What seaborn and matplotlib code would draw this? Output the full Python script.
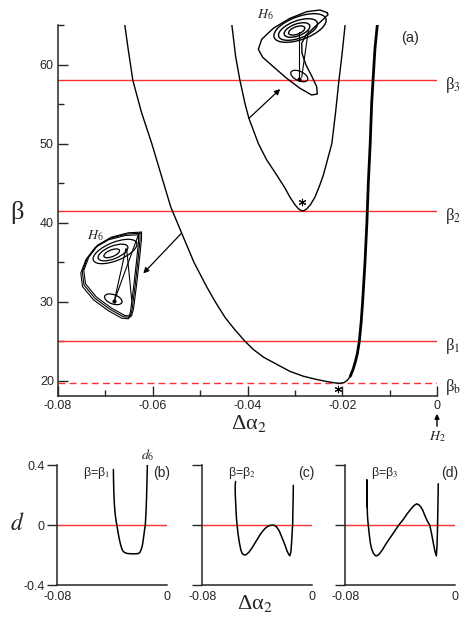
import numpy as np
import pandas as pd
import seaborn as sns
import matplotlib.pyplot as plt
from matplotlib.patches import Ellipse, FancyArrowPatch

# ---- panel (a): homoclinic curves in the (delta alpha2, beta) plane ----
outer_da = [-0.0659, -0.0652, -0.0642, -0.0624, -0.0602, -0.0582, -0.0562, -0.0539,
            -0.0513, -0.0487, -0.0468, -0.0447, -0.0427, -0.0405, -0.0388, -0.0366,
            -0.0335, -0.0310, -0.0282, -0.0255, -0.0230, -0.0215, -0.0205, -0.0196,
            -0.0189, -0.0183]
outer_beta = [65, 62, 58, 54, 50, 46, 42, 38.7, 35, 32, 30, 28, 26.5, 25, 24, 23,
              22, 21.2, 20.6, 20.2, 19.9, 19.75, 19.7, 19.8, 20.1, 20.6]
right_da = [-0.0183, -0.0177, -0.0172, -0.0168, -0.0164, -0.0160, -0.0157, -0.0152,
            -0.0148, -0.0145, -0.0141, -0.0138, -0.0135, -0.0131, -0.0126]
right_beta = [20.6, 21.5, 22.5, 23.5, 25, 27.5, 30, 35, 40, 45, 50, 55, 58, 62, 65]
inner_da = [-0.0433, -0.0425, -0.0416, -0.0405, -0.0397, -0.0377, -0.0360, -0.0338,
            -0.0322, -0.0310, -0.0300, -0.0293, -0.0288, -0.0284, -0.0280, -0.0275,
            -0.0267, -0.0258, -0.0249, -0.0240, -0.0231, -0.0222, -0.0214, -0.0207,
            -0.0201, -0.0194]
inner_beta = [65, 61, 58, 55, 53.2, 50, 48, 46, 44.5, 43.2, 42.3, 41.8, 41.58, 41.5,
              41.55, 41.75, 42.3, 43.2, 44.5, 46, 48, 50, 54, 58, 61, 65]

beta_levels = [58, 41.5, 25, 19.8]
beta_names = ['β$_3$', 'β$_2$', 'β$_1$', 'β$_\\mathrm{b}$']
star_da = [-0.0286, -0.0208]
star_beta = [42.6, 18.95]

# ---- panels (b)-(d): d versus delta alpha2 ----
b_da = [-0.0392, -0.0391, -0.0389, -0.0385, -0.0380, -0.0373, -0.0367, -0.0360,
        -0.0350, -0.0340, -0.0330, -0.0320, -0.0305, -0.0290, -0.0260, -0.0230,
        -0.0210, -0.0200, -0.0190, -0.0180, -0.0172, -0.0165, -0.0160, -0.0155,
        -0.0151, -0.0148, -0.0145]
b_d = [0.37, 0.30, 0.22, 0.14, 0.08, 0.03, 0.0, -0.04, -0.09, -0.13, -0.16, -0.177,
       -0.186, -0.19, -0.192, -0.192, -0.19, -0.183, -0.165, -0.13, -0.08, -0.03,
       0.0, 0.08, 0.18, 0.28, 0.40]
c_da = [-0.0558, -0.0561, -0.0560, -0.0556, -0.0552, -0.0547, -0.0540, -0.0530,
        -0.0520, -0.0510, -0.0495, -0.0480, -0.0460, -0.0440, -0.0420, -0.0400,
        -0.0380, -0.0360, -0.0340, -0.0320, -0.0300, -0.0286, -0.0272, -0.0258,
        -0.0240, -0.0220, -0.0200, -0.0185, -0.0172, -0.0163, -0.0156, -0.0150,
        -0.0146, -0.0143, -0.0141, -0.0139, -0.0138]
c_d = [0.29, 0.26, 0.20, 0.12, 0.05, 0.0, -0.06, -0.12, -0.165, -0.19, -0.20, -0.197,
       -0.18, -0.155, -0.125, -0.095, -0.065, -0.04, -0.02, -0.007, -0.001, 0.0,
       -0.004, -0.015, -0.04, -0.085, -0.13, -0.17, -0.195, -0.205, -0.18, -0.11,
       -0.04, 0.0, 0.10, 0.19, 0.264]
d_da = [-0.0641, -0.0643, -0.0643, -0.0643, -0.0641, -0.0638, -0.0633, -0.0626,
        -0.0618, -0.0608, -0.0595, -0.0579, -0.0565, -0.0550, -0.0530, -0.0500,
        -0.0470, -0.0440, -0.0411, -0.0380, -0.0350, -0.0320, -0.0300, -0.0281,
        -0.0265, -0.0250, -0.0235, -0.0220, -0.0203, -0.0186, -0.0172, -0.0160,
        -0.0148, -0.0138, -0.0133, -0.0130, -0.0128, -0.0126, -0.0124]
d_d = [0.12, 0.21, 0.30, 0.22, 0.12, 0.05, 0.0, -0.06, -0.12, -0.16, -0.19, -0.206,
       -0.203, -0.19, -0.165, -0.12, -0.08, -0.04, 0.0, 0.035, 0.075, 0.11, 0.13,
       0.141, 0.135, 0.12, 0.095, 0.06, 0.025, 0.0, -0.06, -0.12, -0.175, -0.206,
       -0.14, -0.05, 0.05, 0.15, 0.275]
panel_tags = ['(b)', '(c)', '(d)']
panel_betas = ['β=β$_1$', 'β=β$_2$', 'β=β$_3$']

# ---- H6 attractor sketches (pixel coordinates of the figure) ----
top_rings = [(296.7, 30.5, 17, 7.5), (297, 30, 27, 12), (298, 29.5, 41, 17.5), (300, 28, 55, 23)]
top_loop_x = [327.3, 320, 306.7, 290, 273.3, 261.7, 258.3, 262.7, 273.3, 286.7, 300,
              311.7, 317.3, 316.7, 311.7, 306, 302, 301.7, 306, 315, 323.3, 328, 327.3]
top_loop_y = [12.7, 10, 11.7, 18.3, 28.3, 39.3, 49.3, 57.3, 66.7, 78.3, 88.3, 95, 94,
              86.7, 76, 65, 53.3, 43.3, 35, 26.7, 19.3, 14.7, 12.7]
top_small = (299.3, 76, 18.3, 9.3)
top_dot = (299.3, 78.7)
top_links = [((299.3, 32.3), (299.3, 78.7)), ((308.3, 30.7), (301.7, 77.3))]

low_rings = [(111.7, 253.3, 16.7, 6.7), (113, 252.5, 31.7, 12.7), (115, 251.5, 46.7, 18.3)]
low_loop_x = [140, 126.7, 110, 96.7, 87.3, 82.3, 84, 95, 110, 123.3, 130, 132, 135, 138, 140, 140]
low_loop_y = [233.3, 234, 238.3, 246, 258.3, 271.7, 285, 298.3, 309.3, 316.7, 317.3,
              310, 286.7, 260, 240, 233.3]
low_small = (113.3, 299.3, 18.3, 9.3)
low_dot = (114.3, 301)
low_links = [((126, 248.3), (114.3, 301)), ((126.7, 249.3), (131.7, 300)),
             ((138.3, 235), (114.3, 301))]

sns.set_style('ticks')
plt.rcParams['font.family'] = ['Liberation Sans', 'DejaVu Sans']
plt.rcParams['mathtext.fontset'] = 'stix'
plt.rcParams['axes.unicode_minus'] = False
red = '#ff3030'
serif = ['Liberation Serif', 'DejaVu Serif']

fig = plt.figure(figsize=(4.61, 6.25), dpi=100)

# ---------------- panel (a) ----------------
ax = fig.add_axes([58 / 461, 1 - 396 / 625, 379 / 461, 371 / 625])
for lvl, name, ls in zip(beta_levels, beta_names, ['-', '-', '-', (0, (5, 3))]):
    ax.axhline(lvl, color=red, lw=1.0, ls=ls, zorder=1)
    ax.text(1.02, lvl - 0.6, name, transform=ax.get_yaxis_transform(), fontsize=12,
            family=serif, va='center', ha='left', clip_on=False)
sns.lineplot(x=outer_da, y=outer_beta, sort=False, estimator=None, color='k', lw=1.0, ax=ax)
sns.lineplot(x=right_da, y=right_beta, sort=False, estimator=None, color='k', lw=2.0, ax=ax)
sns.lineplot(x=inner_da, y=inner_beta, sort=False, estimator=None, color='k', lw=1.0, ax=ax)
ax.scatter(star_da, star_beta, marker=(6, 2, 0), s=22, color='k', lw=0.8, zorder=3)

ax.annotate('', xy=(-0.0331, 56.9), xytext=(-0.0397, 53.2),
            arrowprops=dict(arrowstyle='-|>', color='k', lw=0.9, mutation_scale=8,
                            shrinkA=0, shrinkB=0))
ax.annotate('', xy=(-0.0620, 33.6), xytext=(-0.0539, 38.7),
            arrowprops=dict(arrowstyle='-|>', color='k', lw=0.9, mutation_scale=8,
                            shrinkA=0, shrinkB=0))

ax.set_xlim(-0.08, 0)
ax.set_ylim(18.1, 65)
ax.set_xticks([-0.08, -0.06, -0.04, -0.02, 0], ['-0.08', '-0.06', '-0.04', '-0.02', '0'])
ax.set_xticks([-0.07, -0.05, -0.03, -0.01], minor=True)
ax.set_yticks([20, 30, 40, 50, 60], ['20', '30', '40', '50', '60'])
ax.set_yticks([25, 35, 45, 55, 65], minor=True)
ax.tick_params(which='major', direction='in', length=7, width=1, labelsize=9, pad=3)
ax.tick_params(which='minor', direction='in', length=4.5, width=1)
for s in ['top', 'right']:
    ax.spines[s].set_visible(False)
for s in ['left', 'bottom']:
    ax.spines[s].set_linewidth(1.1)
ax.text(0.93, 0.965, '(a)', transform=ax.transAxes, fontsize=10.5, ha='center', va='center')
ax.set_xlabel('')
ax.set_ylabel('')

fig.text(17 / 461, 1 - 213 / 625, 'β', family=serif, fontsize=19, ha='center', va='center')
fig.text(249 / 461, 1 - 423 / 625, 'Δα$_2$', family=serif, fontsize=16, ha='center', va='center')
fig.text(255 / 461, 1 - 603 / 625, 'Δα$_2$', family=serif, fontsize=16, ha='center', va='center')
fig.text(17 / 461, 1 - 524 / 625, '$d$', fontsize=17, ha='center', va='center')
fig.text(148 / 461, 1 - 455 / 625, '$d_6$', fontsize=10, ha='center', va='center')
fig.text(437 / 461, 1 - 437 / 625, '$H_2$', fontsize=10, ha='center', va='center')
fig.patches.append(FancyArrowPatch(
    (437 / 461, 1 - 429 / 625), (437 / 461, 1 - 411 / 625), transform=fig.transFigure,
    arrowstyle='-|>', mutation_scale=7, color='k', lw=1))

# ---------------- panels (b)-(d) ----------------
lefts = [57.3, 202.3, 345.3]
curves = [(b_da, b_d), (c_da, c_d), (d_da, d_d)]
for i, (left, (xs, ys)) in enumerate(zip(lefts, curves)):
    bx = fig.add_axes([left / 461, 1 - 585 / 625, 110 / 461, 120 / 625])
    bx.axhline(0, color=red, lw=1.0, zorder=1)
    sns.lineplot(x=xs, y=ys, sort=False, estimator=None, color='k', lw=1.1, ax=bx)
    bx.set_xlim(-0.08, 0)
    bx.set_ylim(-0.4, 0.4)
    bx.set_xticks([-0.08, 0], ['-0.08', '0'])
    bx.set_yticks([-0.4, 0, 0.4], ['-0.4', '0', '0.4'] if i == 0 else ['', '', ''])
    bx.tick_params(axis='y', direction='out', length=7, width=1, labelsize=9, pad=2)
    bx.tick_params(axis='x', length=0, labelsize=9, pad=4)
    for s in ['top', 'right']:
        bx.spines[s].set_visible(False)
    for s in ['left', 'bottom']:
        bx.spines[s].set_linewidth(1.1)
    bx.set_xlabel('')
    bx.set_ylabel('')
    bx.text(0.95, 0.93, panel_tags[i], transform=bx.transAxes, fontsize=10, ha='center', va='center')
    bx.text(0.36, 0.93, panel_betas[i], transform=bx.transAxes, fontsize=9, ha='center', va='center')

# ---------------- H6 sketches ----------------
ov = fig.add_axes([0, 0, 1, 1], zorder=5)
ov.set_xlim(0, 461)
ov.set_ylim(625, 0)
ov.axis('off')
ov.patch.set_alpha(0)
for cx, cy, w, h in top_rings:
    ov.add_patch(Ellipse((cx, cy), w, h, angle=-20, fill=False, color='k', lw=1.0))
ov.plot(top_loop_x, top_loop_y, color='k', lw=1.0)
ov.add_patch(Ellipse(top_small[:2], top_small[2], top_small[3], angle=25, fill=False, color='k', lw=0.9))
ov.plot(*top_dot, 'ko', ms=2)
for a, b in top_links:
    ov.plot([a[0], b[0]], [a[1], b[1]], color='k', lw=0.8)
ov.text(265, 15, '$H_6$', fontsize=10, ha='center', va='center')

for cx, cy, w, h in low_rings:
    ov.add_patch(Ellipse((cx, cy), w, h, angle=-22, fill=False, color='k', lw=0.9))
for dx, dy in [(0, 0), (1.5, -1.2), (-1.5, 1.5)]:
    ov.plot(np.array(low_loop_x) + dx, np.array(low_loop_y) + dy, color='k', lw=0.8)
ov.add_patch(Ellipse(low_small[:2], low_small[2], low_small[3], angle=20, fill=False, color='k', lw=0.9))
ov.plot(*low_dot, 'ko', ms=2)
for a, b in low_links:
    ov.plot([a[0], b[0]], [a[1], b[1]], color='k', lw=0.8)
ov.text(95, 236, '$H_6$', fontsize=10, ha='center', va='center')

fig.savefig('out.png', dpi=100)
